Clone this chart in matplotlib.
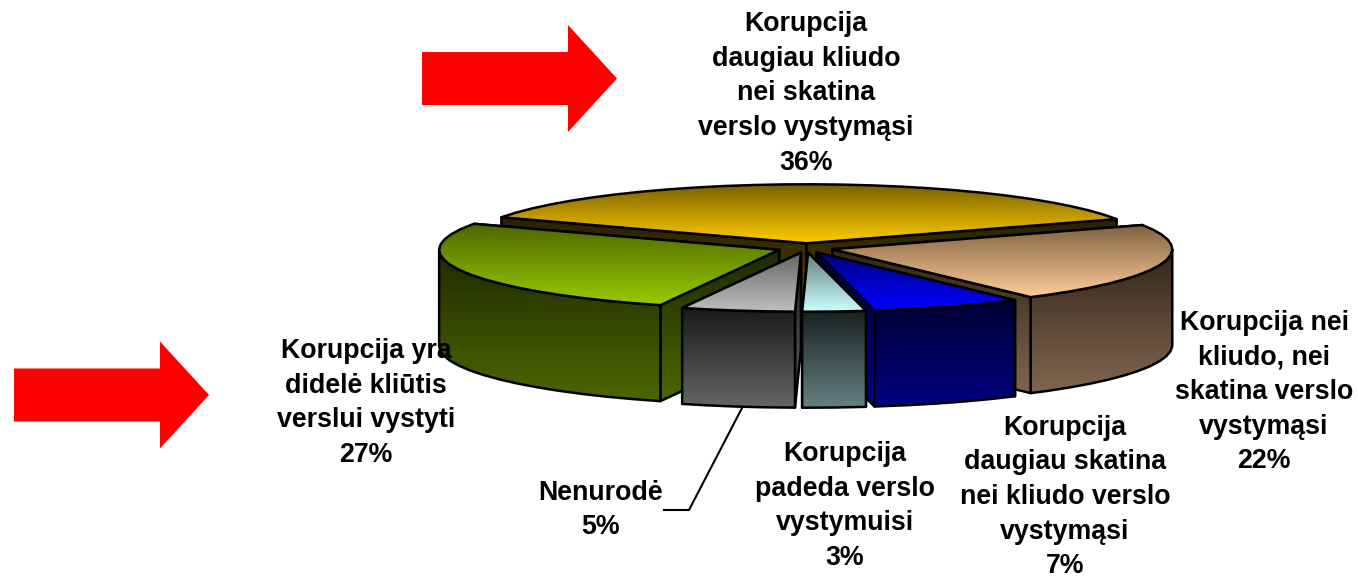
import matplotlib
matplotlib.use("Agg")
import matplotlib.pyplot as plt
import numpy as np
from matplotlib.colors import LinearSegmentedColormap
from matplotlib.patches import FancyArrow, Polygon

labels = [
    "Korupcija\ndaugiau kliudo\nnei skatina\nverslo vystymąsi\n36%",
    "Korupcija nei\nkliudo, nei\nskatina verslo\nvystymąsi\n22%",
    "Korupcija\ndaugiau skatina\nnei kliudo verslo\nvystymąsi\n7%",
    "Korupcija\npadeda verslo\nvystymuisi\n3%",
    "Nenurodė\n5%",
    "Korupcija yra\ndidelė kliūtis\nverslui vystyti\n27%",
]
values = [36, 21.8, 7.2, 3, 5.4, 26.6]
explode = [0.08, 0.08, 0.08, 0.08, 0.08, 0.085]
label_pos = [(806, 93.5), (1264, 392), (1065, 497), (845, 506), (601, 510), (366, 403)]

# top colour pairs (back, front), side colour pairs (upper, lower)
top_colors = [("#7a6000", "#ffcc00"), ("#806040", "#ffcc99"), ("#000080", "#0000ff"),
              ("#668080", "#ccffff"), ("#666666", "#c0c0c0"), ("#4d6600", "#99cc00")]
side_colors = [("#292000", "#665200"), ("#33261a", "#806650"), ("#000033", "#000080"),
               ("#1a2222", "#668080"), ("#1a1a1a", "#666666"), ("#1f2900", "#4d6600")]

cx, cy = 806, 248
rx, ry = 340, 59
depth = 96
start = -63.8
draw_order = [0, 5, 1, 2, 4, 3]

plt.rcParams["font.family"] = ["Liberation Sans", "DejaVu Sans"]

fig = plt.figure(figsize=(13.58, 5.8), dpi=100)
ax = fig.add_axes([0, 0, 1, 1])


def rim_xy(theta, ox, oy):
    t = np.radians(theta)
    return ox + rx * np.sin(t), oy - ry * np.cos(t)


def face(points, colors, zorder):
    points = np.array(points)
    cmap = LinearSegmentedColormap.from_list("face", colors)
    ys = points[:, 1]
    grad = np.linspace(0, 1, 128).reshape(-1, 1)
    im = ax.imshow(grad, cmap=cmap, aspect="auto", zorder=zorder,
                   extent=(points[:, 0].min(), points[:, 0].max(), ys.max(), ys.min()))
    patch = Polygon(points, closed=True, fc="none", ec="none", transform=ax.transData)
    ax.add_patch(patch)
    im.set_clip_path(patch)
    ax.add_patch(Polygon(points, closed=True, fill=False, ec="black", lw=1.8,
                         joinstyle="round", zorder=zorder + 0.5))


shares = np.array(values) / sum(values) * 360
edges = start + np.concatenate([[0], np.cumsum(shares)])

z = 2
for i in draw_order:
    a, b = edges[i], edges[i + 1]
    mid = (a + b) / 2
    ox, oy = rim_xy(mid, 0, 0)
    ox, oy = cx + explode[i] * ox, cy + explode[i] * oy
    # coarse steps, the original outline is visibly faceted
    arc = np.append(np.arange(a, b, 5.0), b)
    xs, ys = rim_xy(arc, ox, oy)

    # radial walls, the one further back first
    for j in sorted((0, -1), key=lambda k: ys[k]):
        face([(ox, oy), (xs[j], ys[j]), (xs[j], ys[j] + depth), (ox, oy + depth)],
             side_colors[i], z)
        z += 1
    # outer wall, only the part that faces the viewer
    front = (arc >= 90) & (arc <= 270)
    if front.any():
        fx, fy = xs[front], ys[front]
        if a < 90 < b:
            fx, fy = np.r_[ox + rx, fx], np.r_[oy, fy]
        if a < 270 < b:
            fx, fy = np.r_[fx, ox - rx], np.r_[fy, oy]
        face(list(zip(fx, fy)) + list(zip(fx[::-1], fy[::-1] + depth)), side_colors[i], z)
        z += 1
    # top
    face([(ox, oy)] + list(zip(xs, ys)), top_colors[i], z)
    z += 1

ax.plot([742, 689, 664], [408, 510, 510], color="black", lw=1.5, zorder=z)

for x, y in [(422, 78.5), (14, 395)]:
    ax.add_patch(FancyArrow(x, y, 195, 0, width=53, head_width=107, head_length=49,
                            length_includes_head=True, color="#ff0000", lw=0, zorder=z))

for text, (x, y) in zip(labels, label_pos):
    ax.text(x, y, text, ha="center", va="center", fontsize=19.3, fontweight="bold",
            linespacing=1.43, color="black", zorder=z + 1)

ax.set_xlim(0, 1358)
ax.set_ylim(580, 0)
ax.axis("off")
fig.savefig("out.png", dpi=100)
